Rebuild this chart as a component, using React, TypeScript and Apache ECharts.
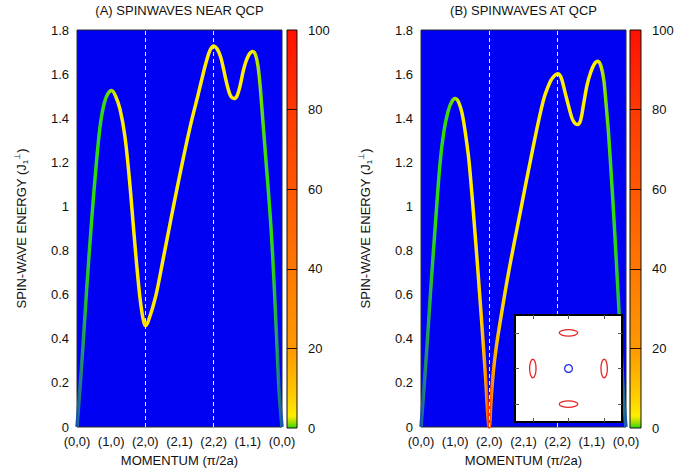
import React, { useEffect, useRef } from 'react';
import * as echarts from 'echarts';

// ---------- data ----------
const momentumLabels = ['(0,0)', '(1,0)', '(2,0)', '(2,1)', '(2,2)', '(1,1)', '(0,0)'];
const highSymmetryLines = [2, 4];

const momentumA = [0, 0.05, 0.17, 0.28, 0.43, 0.58, 0.69, 0.8, 0.9, 1.01, 1.13, 1.26, 1.4, 1.53, 1.65, 1.75, 1.84, 1.9, 1.95, 2.0, 2.06, 2.13, 2.23, 2.33, 2.52, 2.74, 2.92, 3.14, 3.34, 3.55, 3.69, 3.8, 3.9, 4.0, 4.1, 4.2, 4.28, 4.35, 4.42, 4.5, 4.59, 4.68, 4.77, 4.86, 4.94, 5.04, 5.14, 5.22, 5.3, 5.37, 5.43, 5.55, 5.64, 5.7, 5.76, 5.84, 5.92, 6.0];
const energyA = [0, 0.1, 0.36, 0.62, 0.94, 1.22, 1.38, 1.47, 1.51, 1.526, 1.5, 1.44, 1.32, 1.13, 0.91, 0.73, 0.59, 0.52, 0.48, 0.46, 0.47, 0.5, 0.55, 0.61, 0.76, 0.935, 1.075, 1.24, 1.38, 1.51, 1.6, 1.665, 1.71, 1.728, 1.715, 1.68, 1.63, 1.58, 1.535, 1.5, 1.489, 1.5, 1.545, 1.61, 1.655, 1.69, 1.703, 1.69, 1.635, 1.53, 1.41, 1.17, 0.99, 0.85, 0.68, 0.42, 0.15, 0];
const intensityA = [-3, -2.4, -1.5, -0.6, 0, 0, 0, 0.2, 0.6, 1.4, 2.6, 3, 3, 3, 3, 3.3, 3.8, 4.2, 4.6, 5, 4.7, 4.4, 4, 3.7, 3.2, 3, 3, 3, 3, 3, 3, 3, 3, 3, 3, 3, 3, 3, 3, 3, 3, 3, 3, 3, 3, 3, 2.8, 2.2, 1.5, 0.9, 0.5, 0.1, 0, 0, -0.4, -1.2, -2.2, -3];

const momentumB = [0, 0.05, 0.17, 0.3, 0.43, 0.56, 0.67, 0.79, 0.9, 1.0, 1.12, 1.23, 1.38, 1.45, 1.55, 1.66, 1.77, 1.88, 2.0, 2.05, 2.11, 2.2, 2.31, 2.55, 2.9, 3.27, 3.58, 3.78, 3.9, 4.0, 4.1, 4.22, 4.32, 4.42, 4.5, 4.58, 4.67, 4.76, 4.86, 4.96, 5.07, 5.18, 5.27, 5.35, 5.42, 5.49, 5.57, 5.66, 5.76, 5.86, 5.94, 6.0];
const energyB = [0, 0.1, 0.36, 0.66, 0.94, 1.2, 1.34, 1.43, 1.475, 1.489, 1.465, 1.4, 1.24, 1.13, 0.94, 0.72, 0.49, 0.25, 0, 0.12, 0.24, 0.36, 0.47, 0.69, 0.97, 1.26, 1.48, 1.565, 1.592, 1.602, 1.585, 1.515, 1.455, 1.4, 1.378, 1.371, 1.39, 1.465, 1.55, 1.605, 1.645, 1.658, 1.635, 1.575, 1.46, 1.33, 1.14, 0.91, 0.63, 0.34, 0.11, 0];
const intensityB = [-3, -2.4, -1.5, -0.6, 0, 0, 0, 0.2, 0.6, 1.4, 2.6, 3, 3, 3.1, 3.4, 4.5, 8, 18, 95, 40, 20, 12, 8, 4.5, 3.3, 3, 3, 3, 3, 3, 3, 3, 3, 3, 3, 3, 3, 3, 3, 3, 3, 2.8, 2, 1.3, 0.8, 0.4, 0.1, 0, -0.4, -1.2, -2.2, -3];

const colorbarMarks = [20, 40, 60, 80];

// inset: Fermi-surface pockets
const pocketX = [0, 0, -1, 1];
const pocketY = [1, -1, 0, 0];
const pocketRx = [0.26, 0.26, 0.09, 0.09];
const pocketRy = [0.09, 0.09, 0.26, 0.26];
const gammaX = [0];
const gammaY = [0];
const gammaR = [0.11];
const insetTicks = [-1, 0, 1];

// ---------- styles ----------
const FONT = '"Liberation Sans", Arial, Helvetica, sans-serif';
const TXT = '#111';
const CMAP: [number, string][] = [
  [-3, '#1a52b8'],
  [0, '#2ed812'],
  [1.5, '#a8e000'],
  [3, '#ffee00'],
  [8, '#ffcc00'],
  [20, '#ff9900'],
  [40, '#ff7800'],
  [60, '#ff5800'],
  [80, '#ff3800'],
  [100, '#ff1000'],
];

function hexToRgb(h: string) {
  const n = parseInt(h.slice(1), 16);
  return [(n >> 16) & 255, (n >> 8) & 255, n & 255];
}
function cmap(v: number) {
  if (v <= CMAP[0][0]) return CMAP[0][1];
  for (let i = 1; i < CMAP.length; i++) {
    if (v <= CMAP[i][0]) {
      const [v0, c0] = CMAP[i - 1];
      const [v1, c1] = CMAP[i];
      const t = (v - v0) / (v1 - v0);
      const a = hexToRgb(c0);
      const b = hexToRgb(c1);
      const c = a.map((x, k) => Math.round(x + (b[k] - x) * t));
      return `rgb(${c[0]},${c[1]},${c[2]})`;
    }
  }
  return CMAP[CMAP.length - 1][1];
}

function curveGradient(mom: number[], inten: number[]) {
  return new echarts.graphic.LinearGradient(
    0, 0, 1, 0,
    mom.map((m, i) => ({ offset: m / 6, color: cmap(inten[i]) }))
  );
}

function colorbarGradient() {
  const stops = CMAP.filter((s) => s[0] >= 0).map((s) => ({ offset: s[0] / 100, color: s[1] }));
  return new echarts.graphic.LinearGradient(0, 1, 0, 0, stops);
}

function mainXAxis(gridIndex: number) {
  return {
    type: 'value', gridIndex, min: 0, max: 6, interval: 1,
    name: 'MOMENTUM (\u03c0/2a)', nameLocation: 'middle', nameGap: 27,
    nameTextStyle: { fontSize: 13, color: TXT, fontFamily: FONT },
    axisLine: { show: false }, axisTick: { show: false }, splitLine: { show: false },
    axisLabel: { fontSize: 13, color: TXT, fontFamily: FONT, margin: 8, formatter: (v: number) => momentumLabels[Math.round(v)] },
  };
}
function mainYAxis(gridIndex: number) {
  return {
    type: 'value', gridIndex, min: 0, max: 1.8, interval: 0.2,
    name: 'SPIN-WAVE ENERGY (J{sub|1}{sup|\u22a5})', nameLocation: 'middle', nameGap: 48, nameRotate: 90,
    nameTextStyle: {
      fontSize: 13, color: TXT, fontFamily: FONT, lineHeight: 16,
      rich: {
        sub: { fontSize: 8, color: TXT, fontFamily: FONT, verticalAlign: 'bottom', lineHeight: 8 },
        sup: { fontSize: 8, color: TXT, fontFamily: FONT, verticalAlign: 'top', lineHeight: 8 },
      },
    },
    axisLine: { show: false }, axisTick: { show: false }, splitLine: { show: false },
    axisLabel: { fontSize: 13, color: TXT, fontFamily: FONT, margin: 8 },
  };
}
function barXAxis(gridIndex: number) {
  return { type: 'category', gridIndex, data: ['scale'], show: false };
}
function barYAxis(gridIndex: number) {
  return {
    type: 'value', gridIndex, min: 0, max: 100, interval: 20, position: 'right',
    axisLine: { show: false }, axisTick: { show: false }, splitLine: { show: false },
    axisLabel: { fontSize: 13, color: TXT, fontFamily: FONT, margin: 11 },
  };
}
function curveSeries(idx: number, mom: number[], en: number[], inten: number[]) {
  return {
    type: 'line', xAxisIndex: idx, yAxisIndex: idx,
    data: mom.map((m, i) => [m, en[i]]),
    smooth: 0.35, symbol: 'none',
    lineStyle: { width: 3.5, color: curveGradient(mom, inten) },
    markLine: {
      silent: true, symbol: 'none', label: { show: false },
      lineStyle: { type: [4, 3], color: '#f8f29a', width: 1 },
      data: highSymmetryLines.map((x) => ({ xAxis: x })),
    },
  };
}
function colorbarSeries(idx: number) {
  return {
    type: 'bar', xAxisIndex: idx, yAxisIndex: idx, data: [100], barWidth: '100%',
    itemStyle: { color: colorbarGradient() },
    markLine: {
      silent: true, symbol: 'none', label: { show: false },
      lineStyle: { type: 'solid', color: '#2a0a00', width: 1 },
      data: colorbarMarks.map((v) => ({ yAxis: v })),
    },
  };
}
function insetAxis(position: string) {
  return {
    type: 'value', gridIndex: 4, min: -1.5, max: 1.5, position, z: 11,
    axisLine: { show: false, onZero: false }, splitLine: { show: false }, axisLabel: { show: false },
    axisTick: { show: true, inside: true, length: 4, customValues: insetTicks, lineStyle: { color: '#555', width: 1 } },
  };
}

export default function App() {
  const ref = useRef<HTMLDivElement>(null);
  useEffect(() => {
    if (!ref.current) return;
    const chart = echarts.init(ref.current, undefined, { renderer: 'svg' });
    const option: any = {
      animation: false,
      backgroundColor: '#ffffff',
      textStyle: { fontFamily: FONT },
      title: [
        { text: '(A) SPINWAVES NEAR QCP', left: 179.5, top: 4, padding: 0, textAlign: 'center', textStyle: { fontSize: 13, fontWeight: 'normal', color: TXT, fontFamily: FONT } },
        { text: '(B) SPINWAVES AT QCP', left: 523.5, top: 4, padding: 0, textAlign: 'center', textStyle: { fontSize: 13, fontWeight: 'normal', color: TXT, fontFamily: FONT } },
      ],
      grid: [
        { left: 77, top: 30, width: 205, height: 398, show: true, backgroundColor: '#0000f2', borderColor: '#2a2a2a', borderWidth: 1 },
        { left: 287, top: 30, width: 10, height: 398, show: true, backgroundColor: 'transparent', borderColor: '#111', borderWidth: 1, z: 3 },
        { left: 421, top: 30, width: 205, height: 398, show: true, backgroundColor: '#0000f2', borderColor: '#2a2a2a', borderWidth: 1 },
        { left: 630, top: 30, width: 11, height: 398, show: true, backgroundColor: 'transparent', borderColor: '#111', borderWidth: 1, z: 3 },
        { left: 515, top: 315, width: 107, height: 107, show: true, backgroundColor: '#ffffff', borderColor: '#000', borderWidth: 2, z: 10 },
      ],
      xAxis: [mainXAxis(0), barXAxis(1), mainXAxis(2), barXAxis(3), insetAxis('bottom'), insetAxis('top')],
      yAxis: [mainYAxis(0), barYAxis(1), mainYAxis(2), barYAxis(3), insetAxis('left'), insetAxis('right')],
      series: [
        curveSeries(0, momentumA, energyA, intensityA),
        colorbarSeries(1),
        curveSeries(2, momentumB, energyB, intensityB),
        colorbarSeries(3),
        {
          type: 'custom', xAxisIndex: 4, yAxisIndex: 4, z: 12,
          data: pocketX.map((x, i) => [x, pocketY[i], pocketRx[i], pocketRy[i]]),
          renderItem: (_p: any, api: any) => {
            const c = api.coord([api.value(0), api.value(1)]);
            const s = api.size([api.value(2), api.value(3)]);
            return { type: 'ellipse', shape: { cx: c[0], cy: c[1], rx: s[0], ry: s[1] }, style: { fill: 'none', stroke: '#e82828', lineWidth: 1.3 } };
          },
        },
        {
          type: 'custom', xAxisIndex: 4, yAxisIndex: 4, z: 12,
          data: gammaX.map((x, i) => [x, gammaY[i], gammaR[i]]),
          renderItem: (_p: any, api: any) => {
            const c = api.coord([api.value(0), api.value(1)]);
            const s = api.size([api.value(2), api.value(2)]);
            return { type: 'circle', shape: { cx: c[0], cy: c[1], r: s[0] }, style: { fill: 'none', stroke: '#2030e0', lineWidth: 1.3 } };
          },
        },
      ],
    };
    chart.setOption(option);
    return () => chart.dispose();
  }, []);
  return <div ref={ref} style={{ position: 'fixed', left: 0, top: 0, width: 699, height: 472, background: '#fff' }} />;
}
